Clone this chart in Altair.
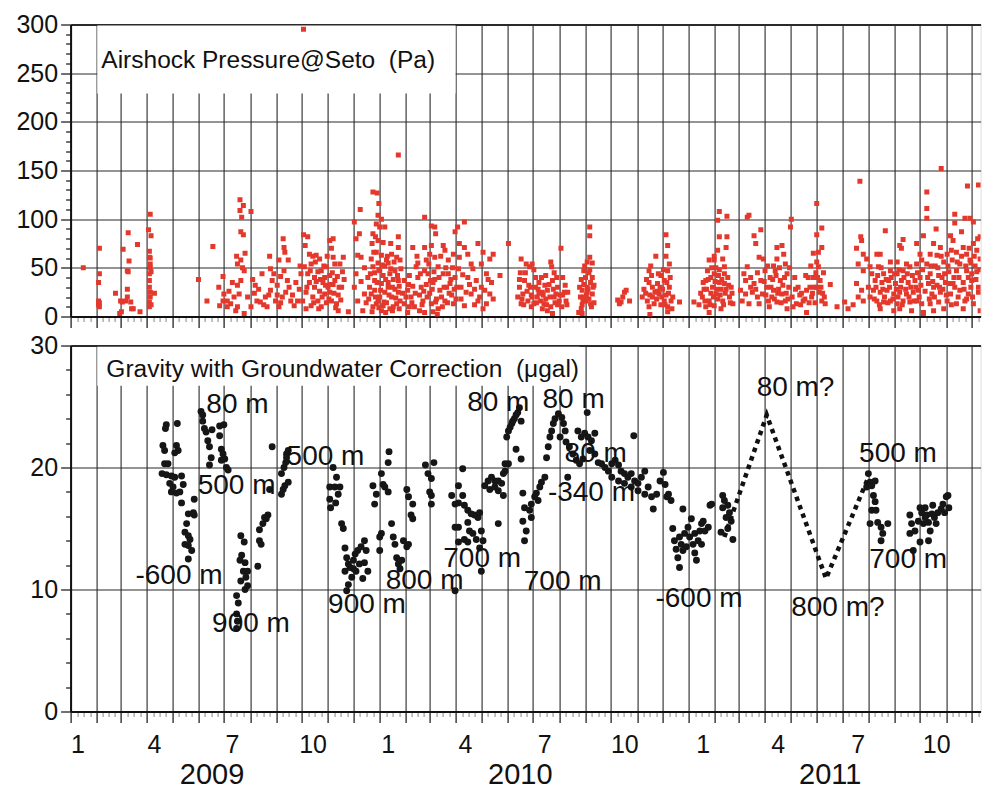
import altair as alt
import pandas as pd

BASE = pd.Timestamp("2009-01-01")

# ---------------- data (x = days since 2009-01-01) ----------------
air_2009 = [
    (15, 50), (34, 70), (34, 44), (33, 35), (33, 16), (33, 12), (34, 10), (34, 14), (53, 24), (62, 69),
    (68, 86), (79, 74), (69, 57), (68, 46), (67, 47), (67, 28), (67, 20), (59, 16), (61, 15), (60, 5),
    (58, 3), (65, 16), (71, 15), (72, 8), (74, 8), (82, 5), (94, 105), (92, 89), (95, 83), (93, 67),
    (93, 61), (94, 60), (94, 54), (94, 50), (95, 46), (93, 44), (93, 37), (93, 30), (94, 25), (94, 20),
    (93, 15), (93, 10), (95, 12), (99, 24), (151, 38), (161, 16), (168, 72), (200, 120), (204, 114),
    (200, 109), (202, 102), (213, 108), (201, 87), (204, 84), (196, 62), (206, 65), (201, 58), (203, 50),
    (205, 47), (197, 54), (180, 41), (175, 30), (181, 23), (185, 16), (189, 13), (176, 11), (193, 20),
    (197, 10), (191, 35), (195, 6), (205, 3), (209, 20), (215, 38), (218, 32), (213, 10), (220, 16),
    (217, 24), (187, 26), (197, 32), (201, 37), (199, 23), (185, 10), (180, 16), (235, 62), (226, 44),
    (236, 49), (240, 44), (246, 58), (251, 80), (252, 71), (253, 66), (257, 58), (248, 41), (244, 32),
    (236, 27), (230, 20), (224, 15), (232, 10), (242, 16), (250, 20), (254, 25), (260, 16), (264, 11),
    (268, 16), (272, 44), (271, 52), (246, 10), (252, 47), (238, 37), (256, 37), (275, 295),
    (222, 28), (228, 12), (234, 22), (258, 30), (262, 22), (266, 35), (270, 28), (244, 22), (248, 14),
    (275, 84), (280, 82), (277, 73), (282, 64), (290, 63), (294, 59), (284, 54), (276, 51), (280, 44),
    (288, 40), (296, 47), (302, 51), (306, 78), (310, 80), (308, 70), (310, 61), (312, 54), (318, 54),
    (322, 61), (304, 30), (300, 23), (292, 16), (284, 11), (278, 25), (296, 10), (308, 16), (314, 13),
    (312, 37), (274, 16), (288, 30), (316, 6), (298, 35), (306, 42), (328, 5), (286, 20), (290, 36),
    (294, 26), (300, 40), (302, 14), (306, 25), (310, 33), (316, 22), (320, 30), (282, 35), (278, 8),
    (292, 46), (286, 62),
    (279, 30), (283, 47), (287, 14), (289, 56), (293, 8), (295, 38), (297, 20), (299, 52), (301, 32),
    (303, 62), (305, 18), (307, 33), (309, 45), (311, 24), (313, 9), (315, 41), (317, 30), (319, 17),
    (321, 46), (323, 38),
    (335, 97), (337, 80), (341, 85), (342, 110), (339, 63), (343, 61), (337, 44), (335, 30), (339, 16),
    (345, 6), (347, 23), (357, 128), (362, 127), (364, 116), (363, 104), (353, 30), (355, 59), (357, 51),
    (359, 37), (355, 23), (357, 10), (361, 95), (357, 85), (360, 82), (363, 78), (356, 75), (361, 66),
    (359, 45), (363, 55), (359, 27), (361, 13), (351, 40), (347, 50), (343, 36), (349, 14),
    (352, 18), (354, 44), (358, 66), (360, 20), (362, 35), (364, 48), (356, 5), (364, 9),
]
air_2010 = [
    (367, 100), (365, 92), (371, 92), (369, 76), (378, 75), (387, 82), (387, 71), (367, 63), (373, 58),
    (379, 64), (385, 61), (389, 58), (365, 47), (371, 52), (377, 44), (383, 47), (367, 34), (375, 35),
    (387, 37), (363, 16), (371, 25), (379, 20), (385, 13), (369, 11), (377, 8), (389, 16), (387, 166),
    (369, 42), (375, 55), (381, 38), (383, 28), (365, 20), (373, 14), (381, 10), (387, 25), (367, 6),
    (375, 30), (366, 27), (368, 53), (370, 15), (372, 38), (374, 62), (376, 22), (378, 49), (380, 30),
    (382, 56), (384, 19), (386, 42), (388, 31), (390, 49), (392, 24), (372, 4), (380, 6), (388, 8),
    (418, 102), (426, 93), (430, 92), (431, 85), (404, 71), (418, 71), (426, 73), (424, 64), (430, 61),
    (440, 73), (442, 68), (457, 92), (454, 87), (465, 97), (459, 75), (452, 64), (394, 37), (398, 27),
    (402, 20), (408, 51), (410, 40), (414, 30), (420, 58), (422, 44), (428, 35), (434, 51), (436, 27),
    (440, 44), (446, 58), (448, 34), (454, 40), (458, 49), (394, 13), (406, 10), (416, 16), (426, 13),
    (434, 8), (442, 16), (452, 13), (398, 4), (418, 4), (433, 2), (400, 42), (404, 31), (412, 22),
    (418, 47), (424, 24), (430, 38), (438, 20), (444, 30), (450, 22), (456, 30), (410, 55), (420, 33),
    (432, 18), (446, 44), (400, 10), (412, 6), (428, 5),
    (396, 20), (399, 33), (403, 14), (407, 24), (409, 62), (413, 44), (415, 12), (417, 26), (421, 20),
    (423, 54), (425, 37), (427, 28), (429, 46), (431, 15), (435, 40), (437, 62), (439, 10), (441, 30),
    (443, 50), (445, 14), (447, 24), (449, 38), (451, 50), (453, 28), (455, 18),
    (459, 61), (465, 71), (469, 64), (473, 54), (481, 75), (487, 66), (499, 64), (495, 59), (485, 54),
    (491, 44), (479, 37), (469, 40), (461, 30), (473, 23), (481, 16), (491, 13), (495, 23), (465, 11),
    (485, 30), (497, 35), (475, 49), (517, 75), (507, 42), (463, 43), (467, 25), (471, 33), (477, 28),
    (483, 20), (489, 27), (493, 38), (477, 12), (487, 8), (499, 18), (461, 18),
    (532, 59), (538, 54), (542, 51), (530, 30), (534, 23), (540, 16), (544, 10), (536, 37), (532, 13),
    (543, 30), (545, 54), (549, 30), (553, 35), (551, 20), (547, 13), (555, 16), (561, 42), (563, 27),
    (567, 56), (568, 51), (569, 37), (571, 20), (567, 10), (569, 3), (575, 30), (579, 70), (577, 16),
    (581, 40), (583, 25), (585, 16), (587, 25), (559, 13), (573, 23), (563, 6), (557, 25), (553, 24),
    (561, 18), (565, 33), (571, 45), (575, 12), (581, 22), (549, 40), (545, 20), (557, 8), (539, 26),
    (531, 45), (535, 12), (528, 20),
    (530, 38), (533, 18), (537, 45), (541, 32), (544, 22), (547, 48), (550, 14), (552, 28), (556, 40),
    (558, 22), (560, 32), (562, 12), (566, 20), (570, 28), (572, 14), (574, 40), (578, 22), (580, 10),
    (584, 32), (586, 12),
    (613, 92), (613, 83), (613, 61), (616, 55), (610, 56), (606, 47), (608, 40), (614, 35), (604, 27),
    (610, 25), (616, 23), (602, 20), (608, 16), (614, 13), (600, 4), (604, 3), (618, 32), (606, 33),
    (612, 45), (610, 30), (606, 20), (616, 40), (612, 18), (604, 12), (618, 14),
    (601, 30), (603, 38), (605, 16), (607, 52), (609, 22), (611, 28), (613, 48), (615, 10), (617, 30),
    (603, 8),
    (646, 17), (650, 15), (652, 20), (654, 25), (656, 27), (660, 16), (648, 13),
    (703, 84), (705, 73), (691, 62), (685, 52), (683, 47), (703, 62), (707, 54), (705, 47), (697, 42),
    (683, 35), (693, 34), (701, 37), (707, 30), (675, 20), (681, 16), (687, 20), (695, 23), (701, 16),
    (705, 10), (709, 16), (683, 10), (684, 2), (705, 5), (719, 15), (689, 13), (699, 28), (703, 22),
    (693, 26), (687, 30), (711, 20), (697, 12), (679, 24),
    (677, 28), (680, 38), (684, 22), (686, 42), (690, 25), (692, 18), (694, 44), (696, 30), (698, 20),
    (700, 48), (702, 12), (704, 35), (706, 24), (708, 40), (710, 8),
]
air_2011 = [
    (766, 108), (764, 99), (775, 103), (766, 82), (775, 82), (774, 71), (764, 68), (770, 59), (760, 58),
    (754, 58), (752, 47), (760, 44), (772, 51), (776, 40), (750, 37), (758, 30), (766, 35), (774, 28),
    (746, 20), (754, 16), (762, 23), (770, 16), (778, 20), (782, 13), (736, 15), (750, 10), (760, 11),
    (754, 4), (768, 8), (772, 44), (756, 40), (762, 50), (768, 28), (764, 18), (756, 24), (748, 28),
    (772, 34), (780, 30), (760, 62), (766, 48), (742, 12),
    (744, 24), (747, 35), (749, 16), (751, 28), (753, 38), (755, 12), (757, 50), (759, 20), (761, 36),
    (763, 28), (765, 42), (767, 22), (769, 38), (771, 12), (773, 24), (777, 32), (779, 14), (781, 24),
    (801, 104), (799, 102), (815, 89), (807, 83), (809, 75), (813, 61), (799, 51), (803, 40), (797, 37),
    (807, 34), (815, 37), (791, 27), (797, 23), (805, 25), (811, 20), (793, 16), (801, 13), (813, 13),
    (817, 23), (803, 30), (809, 28), (795, 44), (811, 45),
    (818, 59), (820, 47), (834, 71), (840, 73), (842, 64), (834, 59), (844, 54), (826, 40), (832, 47),
    (838, 37), (846, 44), (822, 30), (830, 27), (840, 23), (848, 30), (824, 16), (834, 15), (844, 16),
    (852, 20), (857, 13), (865, 16), (869, 27), (873, 30), (868, 42), (881, 116), (851, 100), (850, 92),
    (887, 91), (881, 84), (887, 71), (877, 65), (883, 66), (881, 56), (883, 51), (877, 40), (885, 37),
    (881, 30), (875, 20), (887, 16), (891, 13), (853, 10), (869, 4), (846, 8), (861, 22), (897, 33),
    (828, 20), (836, 28), (830, 52), (856, 28), (862, 12), (878, 30), (884, 25), (872, 14), (880, 45),
    (888, 24),
    (819, 36), (821, 22), (823, 52), (825, 10), (827, 30), (829, 38), (831, 18), (833, 42), (835, 24),
    (837, 50), (839, 14), (841, 32), (843, 40), (845, 24), (847, 18), (849, 50), (855, 40), (859, 30),
    (863, 24), (867, 18), (871, 40), (874, 52), (876, 24), (879, 14), (882, 40), (886, 30), (889, 45),
    (890, 20),
    (905, 10), (914, 15), (918, 8), (924, 12), (932, 139), (933, 82), (934, 78), (928, 70), (936, 64),
    (940, 59), (930, 54), (936, 47), (944, 51), (928, 34), (934, 27), (942, 30), (930, 20), (936, 16),
    (944, 20), (962, 88), (952, 64), (956, 64), (983, 79), (979, 73), (981, 70), (999, 75), (1003, 64),
    (968, 56), (976, 56), (987, 54), (954, 51), (960, 44), (968, 47), (976, 44), (983, 47), (991, 51),
    (999, 54), (1005, 58), (950, 37), (958, 35), (966, 37), (974, 34), (981, 37), (989, 35), (997, 37),
    (1003, 40), (948, 27), (956, 25), (964, 27), (972, 23), (979, 25), (987, 23), (995, 25), (1001, 27),
    (952, 16), (960, 15), (968, 16), (976, 13), (983, 16), (991, 15), (999, 16), (1005, 13), (956, 8),
    (972, 6), (979, 8), (993, 6), (1007, 4), (1007, 83), (1011, 128), (1011, 111), (1011, 101),
    (946, 44), (949, 18), (951, 30), (953, 42), (955, 12), (957, 50), (959, 28), (961, 20), (963, 38),
    (965, 14), (967, 30), (969, 40), (971, 18), (973, 44), (975, 28), (977, 20), (978, 48), (980, 30),
    (982, 12), (984, 40), (986, 28), (988, 44), (990, 20), (992, 30), (994, 42), (996, 16), (998, 30),
    (1000, 45), (1002, 20), (1004, 32), (1006, 48),
    (1028, 152), (1059, 134), (1072, 135), (1044, 105), (1044, 96), (1056, 101), (1062, 101), (1066, 97),
    (1082, 109), (1084, 100), (1081, 94), (1022, 90), (1052, 87), (1039, 83), (1074, 82), (1084, 85),
    (1019, 75), (1027, 71), (1042, 78), (1054, 71), (1066, 75), (1078, 78), (1015, 64), (1023, 63),
    (1035, 64), (1046, 66), (1058, 64), (1070, 68), (1082, 68), (1011, 54), (1021, 52), (1031, 56),
    (1041, 58), (1050, 54), (1062, 58), (1074, 59), (1085, 58), (1015, 44), (1025, 42), (1037, 46),
    (1046, 47), (1058, 47), (1070, 46), (1080, 44), (1013, 34), (1023, 32), (1033, 35), (1042, 34),
    (1054, 35), (1064, 37), (1076, 34), (1085, 35), (1017, 23), (1027, 25), (1039, 23), (1050, 27),
    (1060, 23), (1072, 25), (1082, 22), (1015, 13), (1025, 15), (1035, 16), (1046, 13), (1056, 16),
    (1066, 13), (1078, 15), (1085, 11), (1007, 3), (1019, 6), (1031, 8), (1054, 8), (1074, 6),
    (1019, 30), (1029, 40), (1043, 40), (1048, 20), (1063, 30), (1068, 52), (1078, 48), (1084, 62),
    (1076, 40), (1058, 18), (1040, 12), (1030, 28), (1064, 44), (1072, 30), (1080, 28),
    (1009, 26), (1012, 40), (1014, 18), (1016, 52), (1018, 36), (1020, 20), (1024, 50), (1026, 30),
    (1028, 62), (1032, 44), (1034, 22), (1036, 52), (1038, 34), (1040, 68), (1044, 30), (1047, 56),
    (1049, 40), (1052, 62), (1055, 28), (1057, 52), (1060, 40), (1061, 70), (1063, 55), (1065, 20),
    (1067, 62), (1069, 38), (1071, 80), (1073, 48), (1075, 70), (1077, 30), (1079, 60), (1081, 40),
    (1083, 75), (1085, 50),
]

grav_2009 = [
    (113, 23.5), (112, 23.2), (126, 23.6), (109, 21.8), (111, 21.4), (125, 21.8), (127, 21.4), (123, 21.2),
    (111, 20.3), (115, 20.3), (108, 19.5), (113, 19.4), (119, 19.3), (123, 19.2), (131, 19.3), (133, 18.6),
    (117, 18.7), (121, 18.4), (119, 18.0), (125, 17.9), (129, 18.0), (131, 17.1), (146, 17.4), (139, 16.2),
    (145, 16.3), (137, 15.4), (135, 14.7), (139, 14.4), (141, 14.1), (135, 13.7), (139, 13.6), (143, 13.2),
    (139, 12.5), (146, 16.1), (154, 24.6), (156, 24.3), (156, 23.8), (158, 23.2), (160, 22.9), (167, 23.1),
    (176, 23.4), (181, 23.5), (176, 22.6), (162, 22.2), (164, 21.7), (166, 20.8), (164, 20.2), (178, 21.5),
    (180, 21.1), (182, 20.7), (178, 20.6), (184, 20.0), (186, 19.8), (201, 14.4), (205, 13.9), (202, 12.8),
    (200, 12.4), (206, 12.2), (204, 11.5), (209, 11.5), (207, 11.0), (201, 10.7), (209, 10.3), (206, 10.0),
    (196, 9.5), (198, 8.9), (196, 8.0), (197, 7.4), (196, 6.8), (221, 11.9), (223, 14.0), (225, 13.7),
    (223, 14.9), (227, 15.4), (231, 15.8), (233, 16.1), (229, 15.9), (235, 18.2), (238, 21.7), (249, 17.8),
    (251, 18.2), (253, 18.5), (257, 18.8), (249, 19.5), (252, 20.0), (254, 20.4), (255, 21.1), (257, 21.4),
    (255, 20.8), (306, 18.4), (306, 17.4), (307, 16.7), (310, 20.0), (314, 19.2), (312, 18.4), (318, 18.4),
    (316, 17.8), (313, 17.1), (320, 15.4), (322, 15.0), (324, 13.4), (326, 12.6), (328, 12.1), (324, 11.5),
    (330, 11.8), (334, 12.4), (336, 12.9), (339, 13.2), (343, 13.5), (347, 14.0), (349, 13.2), (341, 12.1),
    (337, 11.5), (332, 11.0), (328, 10.4), (326, 9.9), (345, 10.9), (351, 11.5), (334, 11.7), (347, 12.2),
    (357, 18.5), (359, 17.0), (361, 17.8),
]
grav_2010 = [
    (367, 19.5), (369, 18.6), (371, 18.4), (375, 18.0), (376, 21.3), (375, 20.4), (365, 14.3), (365, 13.2),
    (367, 14.6), (379, 15.4), (381, 14.3), (383, 13.7), (385, 12.6), (387, 12.1), (391, 12.4), (389, 11.7),
    (393, 14.0), (397, 13.5), (399, 13.7), (397, 18.2), (399, 17.6), (404, 17.0), (402, 16.1), (404, 15.8),
    (419, 20.2), (422, 19.5), (426, 19.1), (429, 20.4), (424, 18.0), (426, 17.0), (426, 17.7), (463, 19.9),
    (458, 18.5), (450, 17.7), (454, 17.0), (458, 17.1), (463, 17.7), (465, 16.9), (469, 16.5), (473, 16.2),
    (477, 16.1), (481, 15.9), (483, 16.3), (454, 15.1), (458, 15.1), (469, 15.5), (471, 14.8), (475, 14.6),
    (465, 14.1), (469, 13.9), (479, 14.1), (485, 14.8), (487, 14.0), (483, 13.4), (458, 13.9), (485, 11.5),
    (454, 9.9), (489, 18.5), (493, 18.9), (497, 19.2), (501, 18.9), (495, 18.2), (501, 18.4), (505, 18.1),
    (505, 18.9), (509, 18.7), (511, 19.5), (513, 19.7), (505, 15.4), (511, 17.7), (513, 20.3), (517, 20.3),
    (515, 22.5), (517, 23.0), (519, 23.3), (521, 23.6), (522, 23.8), (524, 24.0), (526, 24.3), (528, 24.5),
    (530, 24.9), (532, 23.8), (526, 21.5), (532, 20.7), (534, 17.9), (536, 16.7), (534, 15.6), (538, 14.8),
    (536, 14.0), (542, 16.5), (544, 17.0), (548, 17.6), (550, 17.9), (554, 18.4), (556, 18.8), (560, 19.2),
    (552, 17.3), (544, 15.9), (562, 20.8), (564, 21.7), (566, 22.5), (568, 23.0), (570, 23.6), (572, 24.0),
    (576, 24.4), (580, 24.1), (582, 23.6), (584, 23.0), (578, 22.5), (585, 22.1), (589, 21.7), (587, 19.2),
    (599, 23.0), (603, 22.5), (607, 22.8), (611, 22.5), (615, 22.2), (619, 22.8), (610, 24.5), (593, 21.1),
    (597, 20.6), (601, 20.3), (605, 20.7), (613, 21.4), (619, 21.1), (623, 20.4), (627, 20.3), (631, 20.0),
    (635, 19.7), (639, 20.3), (643, 20.6), (647, 20.2), (650, 19.7), (654, 19.5), (658, 19.2), (662, 19.5),
    (665, 22.6), (666, 18.9), (670, 18.7), (674, 19.2), (678, 19.7), (682, 18.4), (688, 16.6), (692, 17.8),
    (696, 18.9), (639, 19.2), (647, 18.9), (654, 18.7), (662, 18.4), (670, 18.1), (678, 17.8), (686, 17.6),
    (700, 19.6), (702, 18.6), (706, 17.8), (709, 17.3), (704, 17.6), (711, 15.0), (713, 14.0), (715, 13.3),
    (717, 12.6), (719, 11.8), (721, 13.7), (723, 16.6), (725, 14.6), (727, 13.5), (729, 15.1), (719, 14.3),
    (723, 13.2),
]
grav_2011 = [
    (731, 14.3), (733, 15.8), (735, 13.7), (737, 14.6), (739, 12.4), (741, 14.0), (743, 14.8), (745, 15.4),
    (747, 15.6), (749, 14.8), (753, 15.1), (755, 16.9), (757, 17.0), (737, 13.0), (745, 13.7), (770, 17.7),
    (772, 17.3), (770, 16.7), (776, 16.9), (778, 16.3), (774, 15.9), (780, 15.6), (776, 15.0), (768, 14.7),
    (782, 14.1), (942, 19.5), (944, 18.8), (950, 18.9), (940, 18.4), (946, 18.5), (948, 17.7), (950, 17.2),
    (946, 16.5), (951, 16.5), (944, 15.4), (953, 15.5), (957, 15.1), (965, 15.4), (959, 14.6), (957, 14.0),
    (991, 16.1), (993, 15.4), (991, 14.6), (997, 14.8), (1001, 15.6), (1003, 16.7), (1005, 16.3), (1009, 16.7),
    (1011, 16.1), (1013, 15.5), (1015, 14.8), (1003, 13.9), (995, 13.2), (1013, 14.0), (1017, 16.2),
    (1018, 16.9), (1020, 15.9), (1024, 16.3), (1028, 16.6), (1030, 17.0), (1032, 16.3), (1034, 17.6),
    (1036, 17.7), (1037, 16.7), (1007, 15.4), (1022, 15.4), (1009, 15.9),
]

# presumed gravity path (dotted)
guess_day = [772, 822, 892, 942]
guess_ugal = [14.3, 24.3, 10.9, 19.2]

ann_text = ["80 m", "500 m", "500 m", "-600 m", "900 m", "900 m", "800 m", "700 m", "700 m",
            "80 m", "80 m", "80 m", "-340 m", "-600 m", "80 m?", "500 m", "700 m", "800 m?"]
ann_day = [197, 196, 301, 128, 213, 350, 418, 486, 581, 505, 594, 620, 615, 742, 856, 977, 989, 906]
ann_ugal = [25.1, 18.5, 20.9, 11.1, 7.2, 8.7, 10.7, 12.5, 10.6, 25.3, 25.5, 21.1, 17.9, 9.2, 26.5,
            21.1, 12.4, 8.5]

# month tick labels (placed just right of each month line, as in the original)
month_text = ["1", "4", "7", "10", "1", "4", "7", "10", "1", "4", "7", "10"]
month_day = [8.7, 98.9, 191.0, 286.3, 374.9, 466.2, 559.9, 654.4, 747.0, 835.6, 930.1, 1022.6]

years = ["2009", "2010", "2011"]
year_day = [167, 531, 897]

top_title = "Airshock Pressure@Seto \u00a0(Pa)"
bot_title = "Gravity with Groundwater Correction \u00a0(\u03bcgal)"

# ---------------- helpers ----------------
def to_ms(days):
    return [int((BASE + pd.to_timedelta(d, unit="D")).value // 10**6) for d in days]

W = 910
H_TOP = 292
H_BOT = 366
END_DAY = 1087.5 * W / 921
dom = to_ms([0, END_DAY])

months = pd.date_range("2009-01-01", "2012-01-01", freq="MS")
tick_ms = []
for a, b in zip(months[:-1], months[1:]):
    for k in range(4):
        ms = int((a + (b - a) * k / 4).value // 10**6)
        if dom[0] <= ms <= dom[1]:
            tick_ms.append(ms)

FONT = "Liberation Sans"

xscale = alt.Scale(type="utc", domain=dom, nice=False)
major_x = "utcdate(datum.value) === 1 && utchours(datum.value) === 0"


def xaxis():
    return alt.Axis(
        values=tick_ms, title=None, grid=True, labels=False,
        gridOpacity={"condition": {"test": major_x, "value": 1}, "value": 0},
        gridColor="#3a3a3a", gridWidth=1.2,
        tickSize={"condition": {"test": major_x, "value": 11}, "value": 5},
        tickColor={"condition": {"test": major_x, "value": "#111111"}, "value": "#9a9a9a"},
        tickWidth=1.2, domainColor="#111111", domainWidth=2,
    )


def yaxis(vals, major, top):
    test = f"datum.value % {major} === 0"
    return alt.Axis(
        values=vals, title=None, grid=True,
        labelExpr=f"{test} ? '' + datum.value : ''",
        labelFont=FONT, labelFontSize=25, labelColor="#111111", labelPadding=3,
        labelOverlap=False,
        tickSize={"condition": {"test": test, "value": 10}, "value": 5},
        tickColor="#111111", tickWidth=1.2,
        gridOpacity={"condition": {"test": f"{test} && datum.value > 0", "value": 1}, "value": 0},
        gridWidth={"condition": {"test": f"datum.value === {top}", "value": 2.2}, "value": 1.2},
        gridColor="#2a2a2a", domainColor="#111111", domainWidth=2,
    )


# ---------------- tables ----------------
air_all = [p for p in air_2009 + air_2010 + air_2011 if p[0] < END_DAY]
air_df = pd.DataFrame({"t": to_ms([p[0] for p in air_all]), "v": [p[1] for p in air_all]})
grav_all = grav_2009 + grav_2010 + grav_2011
grav_df = pd.DataFrame({"t": to_ms([p[0] for p in grav_all]), "v": [p[1] for p in grav_all]})
guess_df = pd.DataFrame({"t": to_ms(guess_day), "v": guess_ugal})
ann_df = pd.DataFrame({"t": to_ms(ann_day), "v": ann_ugal, "s": ann_text})
year_df = pd.DataFrame({"t": to_ms(year_day), "s": years})
month_df = pd.DataFrame({"t": to_ms(month_day), "s": month_text})

top_box = pd.DataFrame({"t": to_ms([31.5]), "t2": to_ms([454.5]), "v": [229], "v2": [298.9]})
bot_box = pd.DataFrame({"t": to_ms([31.5]), "t2": to_ms([601]), "v": [26.7], "v2": [29.9]})
top_lab = pd.DataFrame({"t": to_ms([36.3]), "v": [254.8], "s": [top_title]})
bot_lab = pd.DataFrame({"t": to_ms([42.2]), "v": [27.4], "s": [bot_title]})

# ---------------- top panel ----------------
xt = alt.X("t:T", scale=xscale, axis=xaxis())
yt = alt.Y("v:Q", scale=alt.Scale(domain=[0, 300], nice=False, zero=False),
           axis=yaxis(list(range(0, 301, 10)), 50, 300))

top_rect = alt.Chart(top_box).mark_rect(color="white").encode(x=xt, x2="t2:T", y=yt, y2="v2:Q")
top_text = alt.Chart(top_lab).mark_text(
    font=FONT, fontSize=24.5, align="left", baseline="alphabetic", color="#111111"
).encode(x=xt, y=yt, text="s:N")
top_pts = alt.Chart(air_df).mark_square(size=25, color="#e5382d", opacity=1, clip=True).encode(x=xt, y=yt)
top = alt.layer(top_rect, top_text, top_pts).properties(width=W, height=H_TOP)

# ---------------- bottom panel ----------------
xb = alt.X("t:T", scale=xscale, axis=xaxis())
yb = alt.Y("v:Q", scale=alt.Scale(domain=[0, 30], nice=False, zero=False),
           axis=yaxis(list(range(0, 31, 2)), 10, 30))

bot_rect = alt.Chart(bot_box).mark_rect(color="white").encode(x=xb, x2="t2:T", y=yb, y2="v2:Q")
bot_text = alt.Chart(bot_lab).mark_text(
    font=FONT, fontSize=24.5, align="left", baseline="alphabetic", color="#111111"
).encode(x=xb, y=yb, text="s:N")
bot_pts = alt.Chart(grav_df).mark_circle(size=48, color="#161616", opacity=1).encode(x=xb, y=yb)
bot_line = alt.Chart(guess_df).mark_line(
    color="#111111", strokeWidth=4.5, strokeDash=[4.5, 4.5]
).encode(x=xb, y=yb)
bot_ann = alt.Chart(ann_df).mark_text(
    font=FONT, fontSize=28, align="center", baseline="middle", color="#111111"
).encode(x=xb, y=yb, text="s:N")
bot_months = alt.Chart(month_df).mark_text(
    font=FONT, fontSize=25, align="center", baseline="alphabetic", color="#111111"
).encode(x=xb, y=alt.value(H_BOT + 41.5), text="s:N")
bot_years = alt.Chart(year_df).mark_text(
    font=FONT, fontSize=29, align="center", baseline="alphabetic", color="#111111"
).encode(x=xb, y=alt.value(H_BOT + 72.5), text="s:N")
bottom = alt.layer(bot_rect, bot_text, bot_pts, bot_line, bot_ann, bot_months, bot_years).properties(
    width=W, height=H_BOT)

chart = alt.vconcat(top, bottom, spacing=29, bounds="flush").properties(
    padding={"left": 6.6, "top": 3.5, "right": 0, "bottom": 0}
).configure_view(strokeWidth=0).configure(background="white")

chart.save("out.html", embed_options={"renderer": "svg", "actions": False})
